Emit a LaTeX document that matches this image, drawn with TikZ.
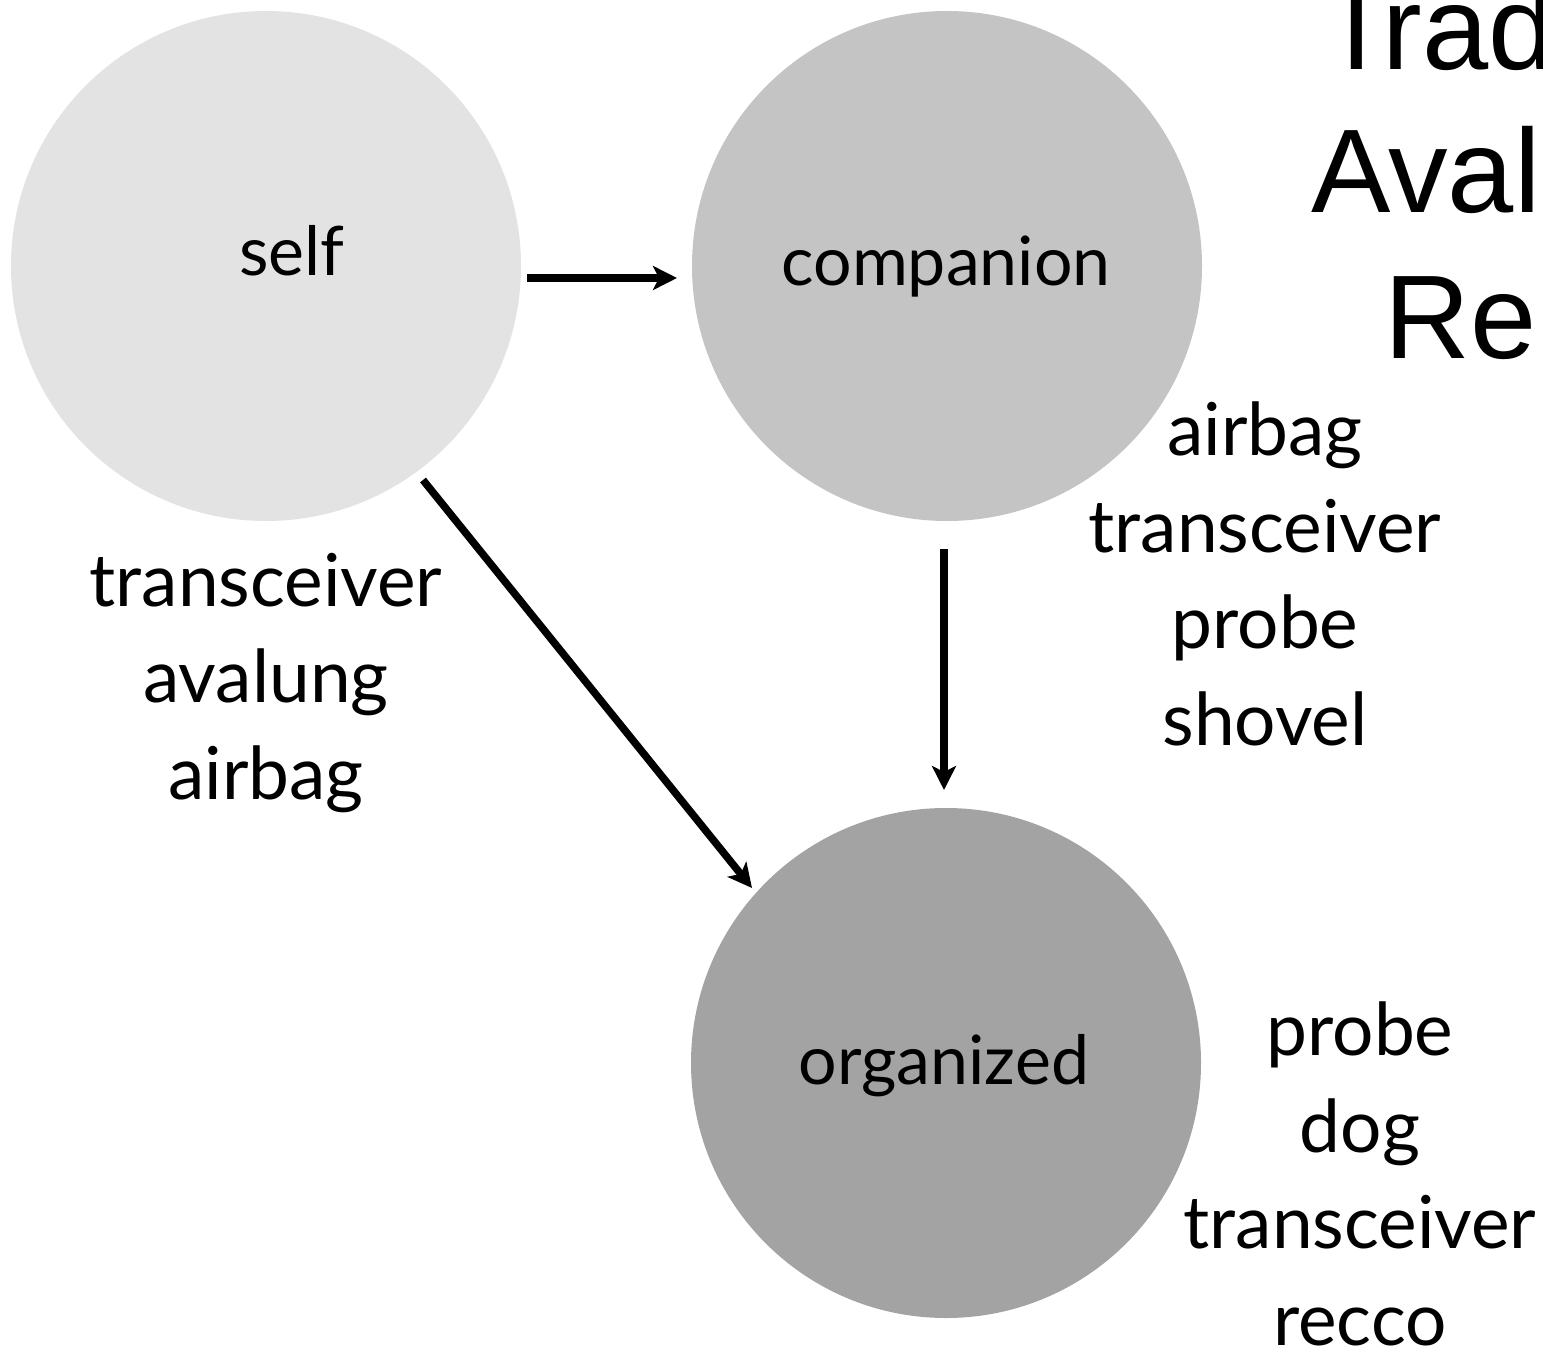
\documentclass[tikz,border=0pt]{standalone}
\usepackage{fontspec}
\setmainfont{Lato}
\newfontfamily\titlefont{Liberation Sans}
\usetikzlibrary{arrows.meta}
\definecolor{cself}{HTML}{E3E3E3}
\definecolor{ccomp}{HTML}{C4C4C4}
\definecolor{corg}{HTML}{A3A3A3}
\tikzset{
  disc/.style={circle, inner sep=0pt, minimum size=510pt, draw=none},
  circlbl/.style={inner sep=0pt, anchor=base, font=\fontsize{68}{80}\selectfont},
  sidelbl/.style={inner sep=0pt, anchor=base, align=center, font=\fontsize{73}{96.5}\selectfont},
  ttl/.style={inner sep=0pt, anchor=base west, font=\titlefont\fontsize{119}{145}\selectfont},
  arr/.style={line width=7.5pt, -{Stealth[length=24pt,width=24pt,inset=6pt]}}
}
\begin{document}
\begin{tikzpicture}[x=1pt,y=-1pt]
\useasboundingbox (0,0) rectangle (1543,1351);
\clip (0,0) rectangle (1543,1351);
\fill[white] (0,0) rectangle (1543,1351);
% circles
\node[disc, fill=cself] (self) at (266,266) {};
\node[disc, fill=ccomp] (comp) at (947,266) {};
\node[disc, fill=corg] (org) at (946,1063) {};
% circle labels
\node[circlbl] (selft) at (292,276) {self};
\node[circlbl] (compt) at (946,286) {companion};
\node[circlbl] (orgt) at (944,1084) {organized};
% side labels (anchor base = baseline of the last line)
\node[sidelbl] (selfeq) at (266,799) {transceiver\\avalung\\airbag};
\node[sidelbl] (compeq) at (1265,745) {airbag\\transceiver\\probe\\shovel};
\node[sidelbl] (orgeq) at (1360,1345) {probe\\dog\\transceiver\\recco};
% title (cut off at the right edge)
\node[ttl] (t1) at (1320,70) {T\kern-10pt rad};
\node[ttl] (t2) at (1311,213) {Aval};
\node[ttl] (t3) at (1384,358) {Re};
% arrows
\coordinate (a1s) at (527,278);
\coordinate (a1e) at (677,278);
\coordinate (a2s) at (944,549);
\coordinate (a2e) at (944,790);
\coordinate (a3s) at (423,480);
\coordinate (a3e) at (752,888);
\draw[arr] (a1s) -- (a1e);
\draw[arr] (a2s) -- (a2e);
\draw[arr] (a3s) -- (a3e);
\end{tikzpicture}
\end{document}
